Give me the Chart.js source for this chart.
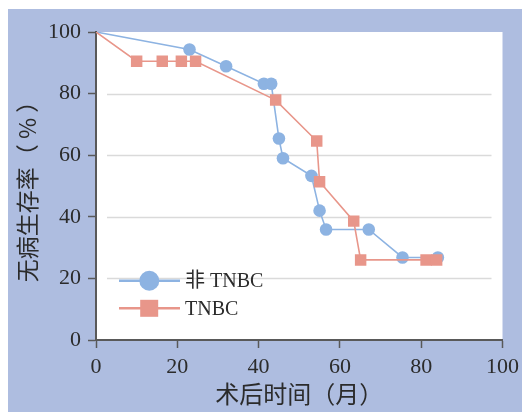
<!DOCTYPE html>
<html>
<head>
<meta charset="utf-8">
<script src="https://cdn.jsdelivr.net/npm/chart.js@4/dist/chart.umd.min.js"></script>
<style>
  html, body { margin: 0; padding: 0; background: #ffffff; }
  canvas { display: block; }
</style>
</head>
<body>
<canvas id="c" width="522" height="412"></canvas>
<script>
// ---- data ----
const seriesNames = ['非 TNBC', 'TNBC'];
const nonTnbcMonths = [0, 23.0, 32.0, 41.3, 43.1, 45.0, 46.0, 53.0, 55.0, 56.6, 67.1, 75.4, 84.1];
const nonTnbcSurvival = [100, 94.3, 88.9, 83.2, 83.2, 65.4, 59.0, 53.3, 42.0, 35.9, 35.9, 26.8, 26.8];
const tnbcMonths = [0, 10.0, 16.3, 21.0, 24.5, 44.2, 54.3, 55.0, 63.4, 65.1, 81.2, 83.8];
const tnbcSurvival = [100, 90.5, 90.5, 90.5, 90.5, 77.9, 64.6, 51.4, 38.6, 26.0, 26.0, 26.0];
const tickValues = [0, 20, 40, 60, 80, 100];
const xTitle = '术后时间（月）';
const yTitle = '无病生存率（ % ）';

const BLUE = '#8db3e2';
const RED = '#e8968a';
const AXIS = '#595959';
const TXT = '#2b2b2b';
const SERIF = '"Liberation Serif", "Noto Sans CJK SC", serif';
const CJK = '"Noto Sans CJK SC", sans-serif';

const toPts = (xs, ys) => xs.map((x, i) => ({ x: x, y: ys[i] }));

const bgPlugin = {
  id: 'bg',
  beforeDraw(chart) {
    const { ctx, chartArea: a } = chart;
    ctx.save();
    ctx.fillStyle = '#ffffff';
    ctx.fillRect(0, 0, chart.width, chart.height);
    ctx.fillStyle = '#aebde0';
    ctx.fillRect(8, 9, chart.width - 8, chart.height - 9);
    ctx.fillStyle = '#ffffff';
    ctx.fillRect(a.left, a.top, a.right - a.left, a.bottom - a.top);
    // grid lines (inset from the axes, as in the reference)
    const ys = chart.scales.y;
    ctx.strokeStyle = '#dadada';
    ctx.lineWidth = 1.5;
    [20, 40, 60, 80].forEach(v => {
      const py = Math.round(ys.getPixelForValue(v)) + 0.5;
      ctx.beginPath();
      ctx.moveTo(a.left + 11, py);
      ctx.lineTo(a.right - 11, py);
      ctx.stroke();
    });
    ctx.restore();
  }
};

const legendPlugin = {
  id: 'inlegend',
  afterDatasetsDraw(chart) {
    const { ctx } = chart;
    ctx.save();
    const rows = [
      { y: 280.7, color: BLUE, shape: 'circle', label: seriesNames[0] },
      { y: 308.3, color: RED, shape: 'rect', label: seriesNames[1] }
    ];
    rows.forEach(r => {
      ctx.strokeStyle = r.color;
      ctx.lineWidth = 2.6;
      ctx.beginPath();
      ctx.moveTo(119, r.y);
      ctx.lineTo(180, r.y);
      ctx.stroke();
      ctx.fillStyle = r.color;
      if (r.shape === 'circle') {
        ctx.beginPath();
        ctx.arc(149.3, r.y, 10, 0, Math.PI * 2);
        ctx.fill();
      } else {
        ctx.fillRect(140.2, r.y - 8.5, 18, 17);
      }
      ctx.fillStyle = TXT;
      ctx.font = '20px ' + SERIF;
      ctx.textBaseline = 'middle';
      ctx.textAlign = 'left';
      ctx.fillText(r.label, 185, r.y + 1);
    });
    ctx.restore();
  }
};

new Chart(document.getElementById('c'), {
  type: 'scatter',
  data: {
    datasets: [
      {
        label: seriesNames[0],
        data: toPts(nonTnbcMonths, nonTnbcSurvival),
        showLine: true,
        borderColor: BLUE,
        borderWidth: 1.6,
        backgroundColor: BLUE,
        pointBackgroundColor: BLUE,
        pointBorderColor: BLUE,
        pointBorderWidth: 0,
        pointStyle: 'circle',
        pointRadius: ctx => ctx.dataIndex === 0 ? 0 : 6.3,
        order: 2
      },
      {
        label: seriesNames[1],
        data: toPts(tnbcMonths, tnbcSurvival),
        showLine: true,
        borderColor: RED,
        borderWidth: 1.6,
        backgroundColor: RED,
        pointBackgroundColor: RED,
        pointBorderColor: RED,
        pointBorderWidth: 0,
        pointStyle: 'rect',
        pointRadius: ctx => ctx.dataIndex === 0 ? 0 : 8.1,
        order: 1
      }
    ]
  },
  options: {
    responsive: false,
    animation: false,
    devicePixelRatio: 1,
    layout: { padding: { left: 0, right: 19.5, top: 32, bottom: 0 } },
    plugins: { legend: { display: false }, tooltip: { enabled: false } },
    elements: { line: { tension: 0 } },
    scales: {
      x: {
        type: 'linear',
        min: 0, max: 100,
        afterFit(s) { s.height = 72; s.paddingLeft = 0; s.paddingRight = 0; },
        afterBuildTicks(s) { s.ticks = tickValues.map(v => ({ value: v })); },
        grid: { drawOnChartArea: false, drawTicks: true, tickLength: 8, tickColor: AXIS, tickWidth: 1.5 },
        border: { color: AXIS, width: 2 },
        ticks: { color: TXT, padding: 6, font: { family: SERIF, size: 22 }, maxRotation: 0 },
        title: { display: true, text: xTitle, color: TXT, font: { family: CJK, size: 24 }, padding: { top: 0, bottom: 4 } }
      },
      y: {
        type: 'linear',
        min: 0, max: 100,
        afterFit(s) { s.width = 96; s.paddingTop = 0; s.paddingBottom = 0; },
        afterBuildTicks(s) { s.ticks = tickValues.map(v => ({ value: v })); },
        grid: { drawOnChartArea: false, drawTicks: true, tickLength: 8, tickColor: AXIS, tickWidth: 1.5 },
        border: { color: AXIS, width: 2 },
        ticks: { color: TXT, padding: 7, font: { family: SERIF, size: 22 } },
        title: { display: true, text: yTitle, color: TXT, font: { family: CJK, size: 23 }, padding: { top: 13, bottom: 0 } }
      }
    }
  },
  plugins: [bgPlugin, legendPlugin]
});
</script>
</body>
</html>
